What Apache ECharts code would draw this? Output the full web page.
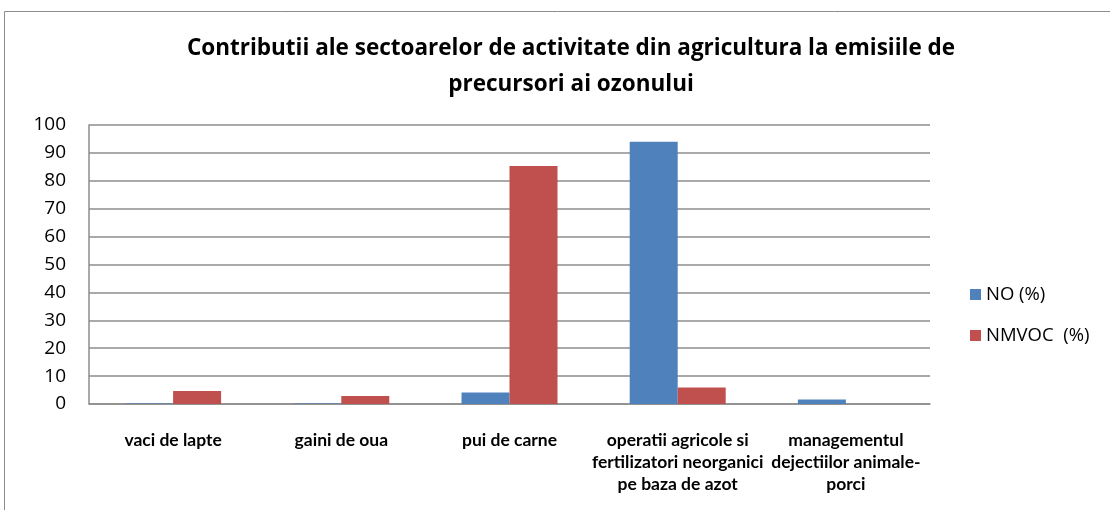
<!DOCTYPE html>
<html>
<head>
<meta charset="utf-8">
<script src="https://cdn.jsdelivr.net/npm/echarts@6/dist/echarts.min.js"></script>
<style>
  html, body { margin: 0; padding: 0; background: #fff; }
  #chart { width: 1110px; height: 510px; }
</style>
</head>
<body>
<div id="chart"></div>
<script>
// Sector categories (x axis)
const categories = [
  'vaci de lapte',
  'gaini de oua',
  'pui de carne',
  'operatii agricole si\nfertilizatori neorganici\npe baza de azot',
  'managementul\ndejectiilor animale-\nporci'
];
// Share of each sector in ozone precursor emissions, %
const noValues = [0.2, 0.2, 4.1, 94, 1.6];
const nmvocValues = [4.7, 2.9, 85.3, 5.9, 0];
const seriesNames = ['NO (%)', 'NMVOC  (%)'];
const yTicks = { min: 0, max: 100, interval: 10 };

const chart = echarts.init(document.getElementById('chart'));
const fontFamily = '"Open Sans", Lato, sans-serif';
// Category labels use a narrower face so the long wrapped lines fit their slots
const labelFamily = 'Lato, "Open Sans", sans-serif';

chart.setOption({
  animation: false,
  textStyle: { fontFamily },
  title: {
    text: 'Contributii ale sectoarelor de activitate din agricultura la emisiile de\nprecursori ai ozonului',
    left: 566,
    top: 26,
    textAlign: 'center',
    textStyle: { fontSize: 22.5, fontWeight: 'bold', color: '#000', lineHeight: 36, fontFamily }
  },
  graphic: [{
    type: 'rect',
    shape: { x: 4.5, y: 11.5, width: 1120, height: 520 },
    style: { fill: 'none', stroke: '#8c8c8c', lineWidth: 1 },
    silent: true
  }],
  legend: {
    orient: 'vertical',
    left: 965,
    top: 280,
    itemWidth: 11,
    itemHeight: 11,
    itemGap: 22,
    icon: 'rect',
    textStyle: { fontSize: 18.5, color: '#000', fontFamily },
    data: seriesNames
  },
  grid: { left: 89, right: 180, top: 125, bottom: 106, containLabel: false },
  xAxis: {
    type: 'category',
    data: categories,
    axisLine: { lineStyle: { color: '#8c8c8c', width: 1.5 } },
    axisTick: { show: false },
    axisLabel: {
      interval: 0,
      margin: 25,
      color: '#000',
      fontSize: 17.5,
      fontWeight: 'bold',
      lineHeight: 22,
      fontFamily: labelFamily
    }
  },
  yAxis: {
    type: 'value',
    min: yTicks.min,
    max: yTicks.max,
    interval: yTicks.interval,
    axisLine: { show: true, lineStyle: { color: '#8c8c8c', width: 1.5 } },
    axisTick: { show: false },
    splitLine: { lineStyle: { color: '#8c8c8c', width: 1.5 } },
    axisLabel: { fontSize: 19, color: '#000', margin: 23, fontFamily }
  },
  series: [
    {
      name: seriesNames[0],
      type: 'bar',
      data: noValues,
      barWidth: 48,
      barGap: '0%',
      itemStyle: { color: '#4f81bd' }
    },
    {
      name: seriesNames[1],
      type: 'bar',
      data: nmvocValues,
      barWidth: 48,
      barGap: '0%',
      itemStyle: { color: '#c0504d' }
    }
  ]
});
</script>
</body>
</html>
